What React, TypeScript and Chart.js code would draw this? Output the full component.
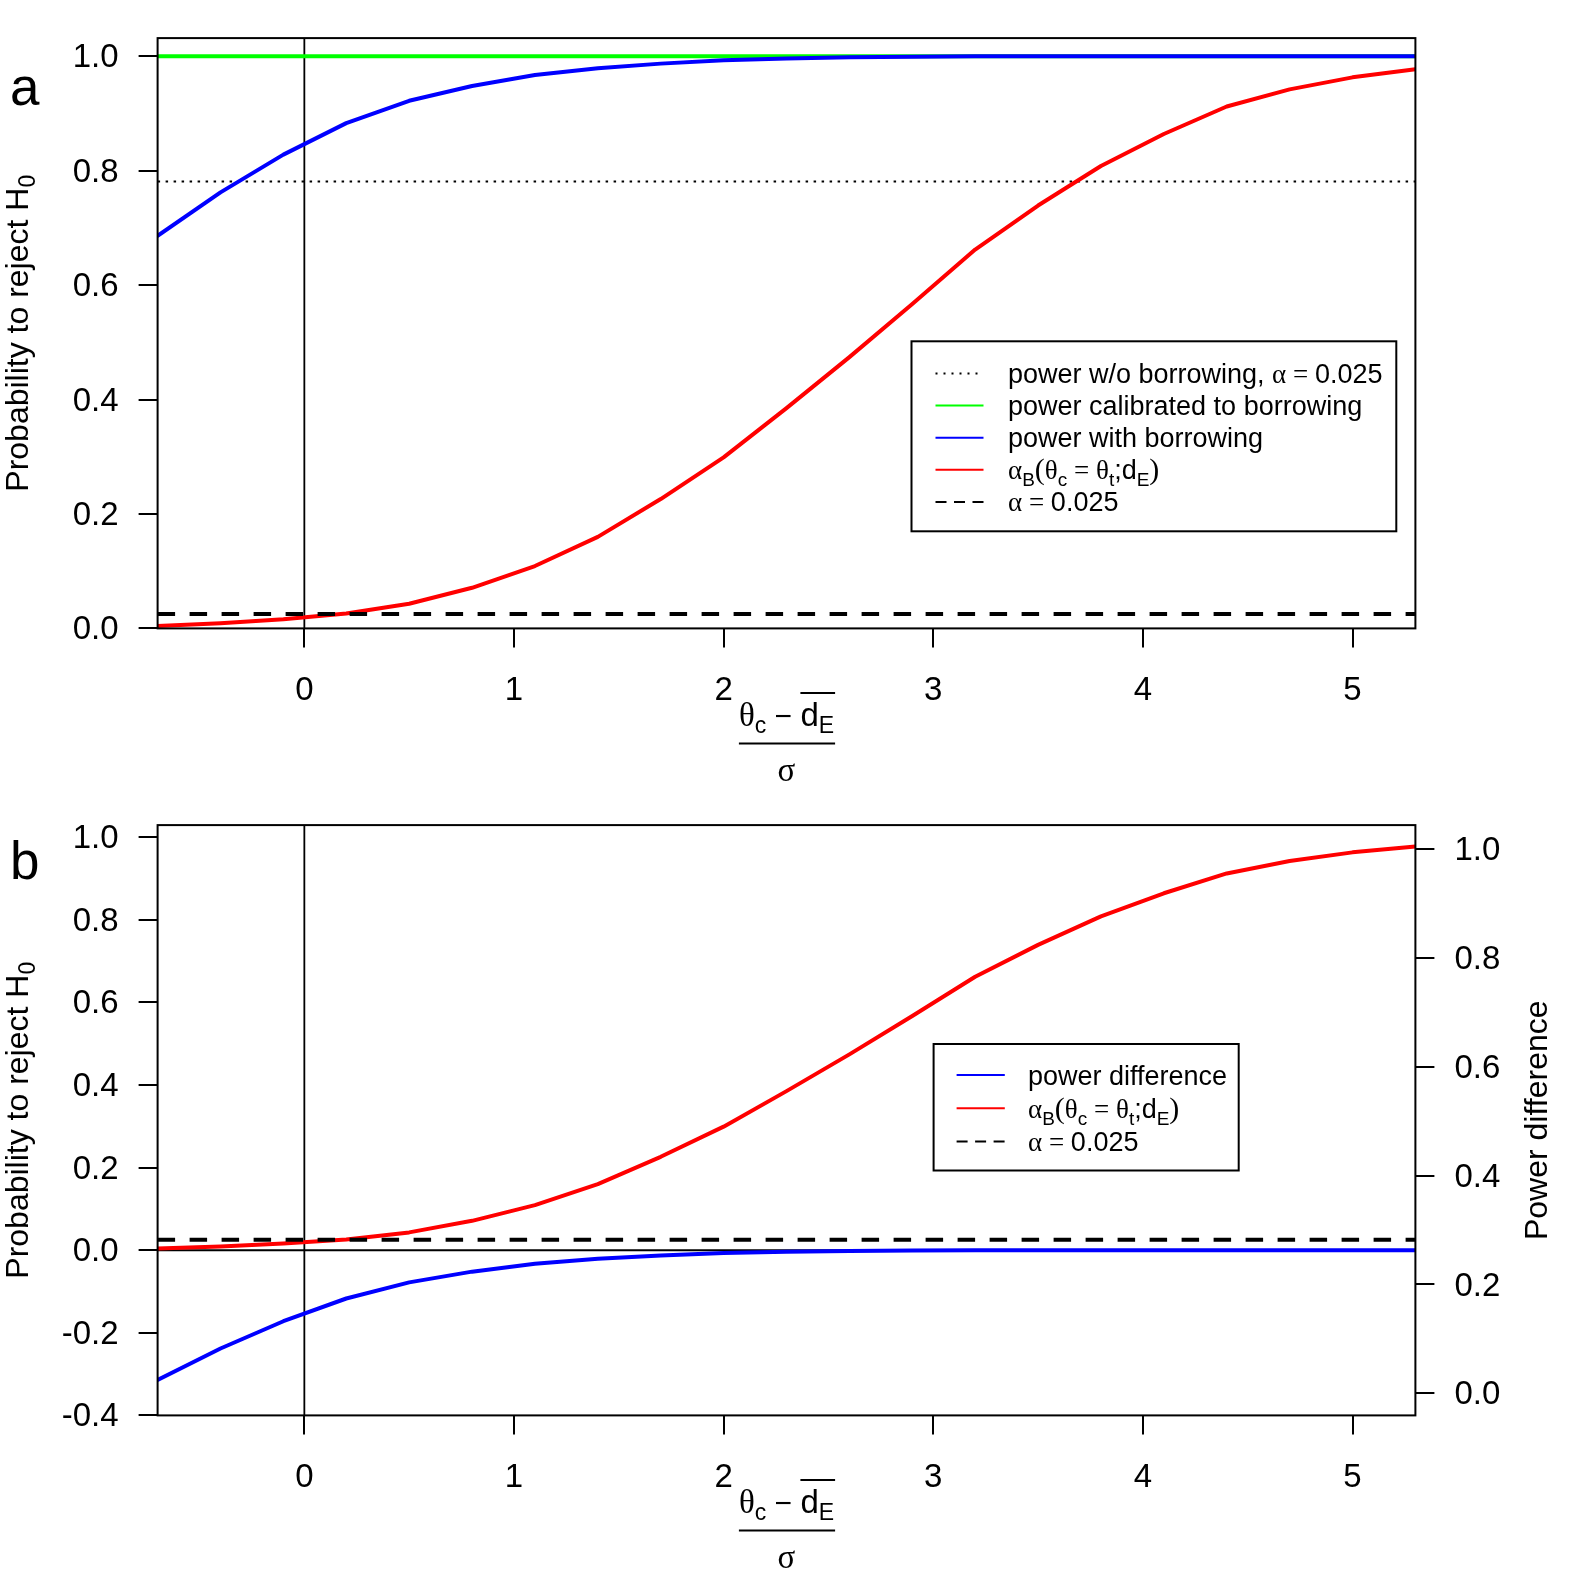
import React, { useEffect, useRef } from 'react';
import { Chart, registerables } from 'chart.js';

Chart.register(...registerables);

const SANS = '"Liberation Sans", Arial, Helvetica, sans-serif';
const SERIF = '"Liberation Serif", "Times New Roman", "DejaVu Serif", serif';

// Standardised prior-data conflict (θc − d̄E)/σ at which the operating characteristics were evaluated
const conflictGrid = [-0.7, -0.4, -0.1, 0.2, 0.5, 0.8, 1.1, 1.4, 1.7, 2.0, 2.3, 2.6, 2.9, 3.2, 3.5, 3.8, 4.1, 4.4, 4.7, 5.0, 5.3];

// Power of the test calibrated to the borrowing design
const powerCalibrated = [1.0, 1.0, 1.0, 1.0, 1.0, 1.0, 1.0, 1.0, 1.0, 1.0, 1.0, 1.0, 1.0, 1.0, 1.0, 1.0, 1.0, 1.0, 1.0, 1.0, 1.0];

// Power of the test that borrows from external data
const powerWithBorrowing = [0.686, 0.762, 0.828, 0.883, 0.922, 0.948, 0.967, 0.979, 0.987, 0.993, 0.996, 0.998, 0.999, 1.0, 1.0, 1.0, 1.0, 1.0, 1.0, 1.0, 1.0];

// Type I error under borrowing, αB(θc = θt; dE)
const alphaBorrowing = [0.004, 0.009, 0.016, 0.026, 0.043, 0.071, 0.109, 0.16, 0.226, 0.299, 0.385, 0.474, 0.567, 0.662, 0.739, 0.808, 0.864, 0.912, 0.942, 0.963, 0.977];

// Power with borrowing minus calibrated power
const powerDifference = [-0.314, -0.238, -0.172, -0.117, -0.078, -0.052, -0.033, -0.021, -0.013, -0.007, -0.004, -0.002, -0.001, 0, 0, 0, 0, 0, 0, 0, 0];

const powerWithoutBorrowing = 0.781;
const nominalAlpha = 0.025;
const noConflict = 0;
const zeroDifference = 0;

const xTicks = [0, 1, 2, 3, 4, 5];
const probTicksA = [0, 0.2, 0.4, 0.6, 0.8, 1.0];
const probTicksB = [-0.4, -0.2, 0, 0.2, 0.4, 0.6, 0.8, 1.0];
const diffTicks = [0, 0.2, 0.4, 0.6, 0.8, 1.0];

const X_MIN = -0.7;
const X_MAX = 5.3;

// canvas geometry
const W = 1574;
const H = 787;
const LEFT = 157.6;
const RIGHT = 158.6;
const TOP = 38.1;
const BOTTOM = 158.6;
const TICK_LEN = 19;

const BLUE = '#0000ff';
const RED = '#ff0000';
const GREEN = '#00ff00';

type Seg = { t: string; f: string; dy?: number };
const sans = (px: number) => `${px}px ${SANS}`;
const serif = (px: number) => `${px}px ${SERIF}`;

function measure(ctx: CanvasRenderingContext2D, segs: Seg[]) {
  let w = 0;
  for (const s of segs) {
    ctx.font = s.f;
    w += ctx.measureText(s.t).width;
  }
  return w;
}

function drawSegs(ctx: CanvasRenderingContext2D, segs: Seg[], x: number, y: number) {
  let cx = x;
  ctx.textAlign = 'left';
  ctx.textBaseline = 'alphabetic';
  for (const s of segs) {
    ctx.font = s.f;
    ctx.fillText(s.t, cx, y + (s.dy || 0));
    cx += ctx.measureText(s.t).width;
  }
  return cx;
}

function hline(ctx: CanvasRenderingContext2D, x1: number, x2: number, y: number) {
  ctx.beginPath();
  ctx.moveTo(x1, y);
  ctx.lineTo(x2, y);
  ctx.stroke();
}

const alphaBLabel = (size: number): Seg[] => {
  const sub = Math.round(size * 0.72);
  const d = Math.round(size * 0.26);
  return [
    { t: 'α', f: serif(size) },
    { t: 'B', f: sans(sub), dy: d },
    { t: '(', f: serif(size + 3) },
    { t: 'θ', f: serif(size) },
    { t: 'c', f: sans(sub), dy: d },
    { t: ' = ', f: serif(size) },
    { t: 'θ', f: serif(size) },
    { t: 't', f: sans(sub), dy: d },
    { t: ';', f: sans(size) },
    { t: 'd', f: sans(size) },
    { t: 'E', f: sans(sub), dy: d },
    { t: ')', f: serif(size + 3) },
  ];
};

const alphaLabel = (size: number): Seg[] => [
  { t: 'α', f: serif(size) },
  { t: ' = ', f: serif(size) },
  { t: '0.025', f: sans(size) },
];

type LegendEntry = { style: 'solid' | 'dashed' | 'dotted'; color: string; label: Seg[] };

const LEG = 27;
const legendEntriesA: LegendEntry[] = [
  { style: 'dotted', color: '#000', label: [{ t: 'power w/o borrowing, ', f: sans(LEG) }, ...alphaLabel(LEG)] },
  { style: 'solid', color: GREEN, label: [{ t: 'power calibrated to borrowing', f: sans(LEG) }] },
  { style: 'solid', color: BLUE, label: [{ t: 'power with borrowing', f: sans(LEG) }] },
  { style: 'solid', color: RED, label: alphaBLabel(LEG) },
  { style: 'dashed', color: '#000', label: alphaLabel(LEG) },
];

const legendEntriesB: LegendEntry[] = [
  { style: 'solid', color: BLUE, label: [{ t: 'power difference', f: sans(LEG) }] },
  { style: 'solid', color: RED, label: alphaBLabel(LEG) },
  { style: 'dashed', color: '#000', label: alphaLabel(LEG) },
];

type LegendBox = { l: number; t: number; r: number; b: number; rows: number[]; s1: number; s2: number; tx: number };

function drawLegend(ctx: CanvasRenderingContext2D, box: LegendBox, entries: LegendEntry[]) {
  ctx.save();
  ctx.fillStyle = '#fff';
  ctx.fillRect(box.l, box.t, box.r - box.l, box.b - box.t);
  ctx.strokeStyle = '#000';
  ctx.lineWidth = 2;
  ctx.setLineDash([]);
  ctx.strokeRect(box.l, box.t, box.r - box.l, box.b - box.t);
  entries.forEach((e, i) => {
    const y = box.rows[i];
    ctx.strokeStyle = e.color;
    ctx.lineWidth = 2;
    ctx.lineCap = 'butt';
    ctx.setLineDash(e.style === 'dashed' ? [11, 7.5] : e.style === 'dotted' ? [2, 6] : []);
    hline(ctx, box.s1, box.s2, y);
    ctx.setLineDash([]);
    ctx.fillStyle = '#000';
    drawSegs(ctx, e.label, box.tx, y + 9.5);
  });
  ctx.restore();
}

function drawConflictTitle(ctx: CanvasRenderingContext2D, cx: number, cb: number) {
  const num: Seg[] = [
    { t: 'θ', f: serif(33) },
    { t: 'c', f: sans(23), dy: 7 },
    { t: ' − ', f: sans(30) },
    { t: 'd', f: sans(33) },
    { t: 'E', f: sans(23), dy: 7 },
  ];
  const w = measure(ctx, num);
  const x0 = cx - w / 2;
  ctx.fillStyle = '#000';
  const end = drawSegs(ctx, num, x0, cb + 97.5);
  const wOver = measure(ctx, num.slice(3));
  ctx.strokeStyle = '#000';
  ctx.setLineDash([]);
  ctx.lineWidth = 2;
  hline(ctx, end - wOver, end + 1, cb + 64.5);
  ctx.lineWidth = 2;
  hline(ctx, x0, end + 1, cb + 115);
  ctx.font = serif(33);
  ctx.textAlign = 'center';
  ctx.textBaseline = 'alphabetic';
  ctx.fillText('σ', cx, cb + 153);
}

function drawRotated(ctx: CanvasRenderingContext2D, segs: Seg[], baseX: number, cy: number) {
  ctx.save();
  ctx.translate(baseX, cy);
  ctx.rotate(-Math.PI / 2);
  const w = measure(ctx, segs);
  ctx.fillStyle = '#000';
  drawSegs(ctx, segs, -w / 2, 0);
  ctx.restore();
}

type PanelSpec = {
  letter: string;
  letterBaseline: number;
  yMin: number;
  yMax: number;
  yTicks: number[];
  datasets: any[];
  legendBox: LegendBox;
  legend: LegendEntry[];
  rightAxis: boolean;
};

const pts = (ys: number[]) => conflictGrid.map((x, i) => ({ x, y: ys[i] }));
const horizontal = (v: number) => [{ x: X_MIN, y: v }, { x: X_MAX, y: v }];

function lineSet(data: any[], color: string, width: number, dash: number[] = [], cap: CanvasLineCap = 'round') {
  return {
    data,
    borderColor: color,
    borderWidth: width,
    borderDash: dash,
    borderCapStyle: cap,
    borderJoinStyle: 'round',
    pointRadius: 0,
    tension: 0,
    fill: false,
    xAxisID: 'x',
    yAxisID: 'y',
  };
}

const tickFont = { family: SANS, size: 33, lineHeight: 1 };
const axisGrid = { display: true, drawOnChartArea: false, drawTicks: true, tickLength: TICK_LEN, color: '#000', lineWidth: 2 };

function buildConfig(spec: PanelSpec): any {
  const decor = {
    id: 'decor',
    afterDraw(chart: any) {
      const { ctx, chartArea: a } = chart;
      ctx.save();
      ctx.setLineDash([]);
      ctx.strokeStyle = '#000';
      ctx.lineWidth = 2;
      ctx.strokeRect(a.left, a.top, a.right - a.left, a.bottom - a.top);
      drawConflictTitle(ctx, (a.left + a.right) / 2, a.bottom);
      const cy = (a.top + a.bottom) / 2;
      drawRotated(ctx, [
        { t: 'Probability to reject H', f: sans(32) },
        { t: '0', f: sans(23), dy: 7 },
      ], 28, cy);
      if (spec.rightAxis) {
        drawRotated(ctx, [{ t: 'Power difference', f: sans(32) }], 1546.5, cy);
      }
      drawLegend(ctx, spec.legendBox, spec.legend);
      ctx.fillStyle = '#000';
      ctx.font = sans(53);
      ctx.textAlign = 'left';
      ctx.textBaseline = 'alphabetic';
      ctx.fillText(spec.letter, 10, spec.letterBaseline);
      ctx.restore();
    },
  };

  const scales: any = {
    x: {
      type: 'linear',
      position: 'bottom',
      min: X_MIN,
      max: X_MAX,
      afterBuildTicks: (s: any) => { s.ticks = xTicks.map((v) => ({ value: v })); },
      afterFit: (s: any) => { s.height = BOTTOM; },
      grid: axisGrid,
      border: { display: false },
      ticks: { color: '#000', font: tickFont, padding: 27, maxRotation: 0, autoSkip: false, callback: (v: any) => String(v) },
    },
    y: {
      type: 'linear',
      position: 'left',
      min: spec.yMin,
      max: spec.yMax,
      afterBuildTicks: (s: any) => { s.ticks = spec.yTicks.map((v) => ({ value: v })); },
      afterFit: (s: any) => { s.width = LEFT; },
      grid: axisGrid,
      border: { display: false },
      ticks: { color: '#000', font: tickFont, padding: 20, labelOffset: 2, autoSkip: false, callback: (v: any) => Number(v).toFixed(1) },
    },
  };
  if (spec.rightAxis) {
    scales.y2 = {
      type: 'linear',
      position: 'right',
      min: -0.0406,
      max: 1.0443,
      afterBuildTicks: (s: any) => { s.ticks = diffTicks.map((v) => ({ value: v })); },
      afterFit: (s: any) => { s.width = RIGHT; },
      grid: axisGrid,
      border: { display: false },
      ticks: { color: '#000', font: tickFont, padding: 20, labelOffset: 2, autoSkip: false, callback: (v: any) => Number(v).toFixed(1) },
    };
  }

  return {
    type: 'line',
    data: { datasets: spec.datasets },
    options: {
      responsive: false,
      maintainAspectRatio: false,
      animation: false,
      devicePixelRatio: 1,
      layout: { padding: { top: TOP, left: 0, bottom: 0, right: spec.rightAxis ? 0 : RIGHT } },
      plugins: { legend: { display: false }, tooltip: { enabled: false } },
      scales,
    },
    plugins: [decor],
  };
}

// datasets listed top-most first (Chart.js paints index 0 last)
const panelA: PanelSpec = {
  letter: 'a',
  letterBaseline: 105,
  yMin: 0,
  yMax: 1.0316,
  yTicks: probTicksA,
  rightAxis: false,
  datasets: [
    lineSet(horizontal(nominalAlpha), '#000', 4, [17.5, 14.5], 'butt'),
    lineSet(pts(alphaBorrowing), RED, 4),
    lineSet(pts(powerWithBorrowing), BLUE, 4),
    lineSet(pts(powerCalibrated), GREEN, 4),
    lineSet(horizontal(powerWithoutBorrowing), '#000', 2, [2.5, 5.5], 'butt'),
    lineSet([{ x: noConflict, y: 0 }, { x: noConflict, y: 1.0316 }], '#000', 1.8, [], 'butt'),
  ],
  legend: legendEntriesA,
  legendBox: { l: 911.5, t: 341.3, r: 1396.3, b: 531.3, rows: [373.4, 405.5, 437.7, 469.8, 501.9], s1: 935.5, s2: 983.5, tx: 1008 },
};

const panelB: PanelSpec = {
  letter: 'b',
  letterBaseline: 92,
  yMin: -0.4,
  yMax: 1.029,
  yTicks: probTicksB,
  rightAxis: true,
  datasets: [
    lineSet(horizontal(nominalAlpha), '#000', 4, [17.5, 14.5], 'butt'),
    lineSet(pts(alphaBorrowing), RED, 4),
    lineSet(pts(powerDifference), BLUE, 4),
    lineSet(horizontal(zeroDifference), '#000', 2, [], 'butt'),
    lineSet([{ x: noConflict, y: -0.4 }, { x: noConflict, y: 1.029 }], '#000', 1.8, [], 'butt'),
  ],
  legend: legendEntriesB,
  legendBox: { l: 933.6, t: 257, r: 1238.7, b: 383.5, rows: [288.1, 321.2, 354.4], s1: 956.6, s2: 1004.8, tx: 1028 },
};

function Panel({ spec }: { spec: PanelSpec }) {
  const ref = useRef<HTMLCanvasElement>(null);
  useEffect(() => {
    const chart = new Chart(ref.current as HTMLCanvasElement, buildConfig(spec));
    return () => chart.destroy();
  }, [spec]);
  return <canvas ref={ref} width={W} height={H} style={{ display: 'block', width: W, height: H }} />;
}

export default function App() {
  return (
    <div style={{ position: 'absolute', left: 0, top: 0, width: W, height: 2 * H, background: '#fff' }}>
      <Panel spec={panelA} />
      <Panel spec={panelB} />
    </div>
  );
}
